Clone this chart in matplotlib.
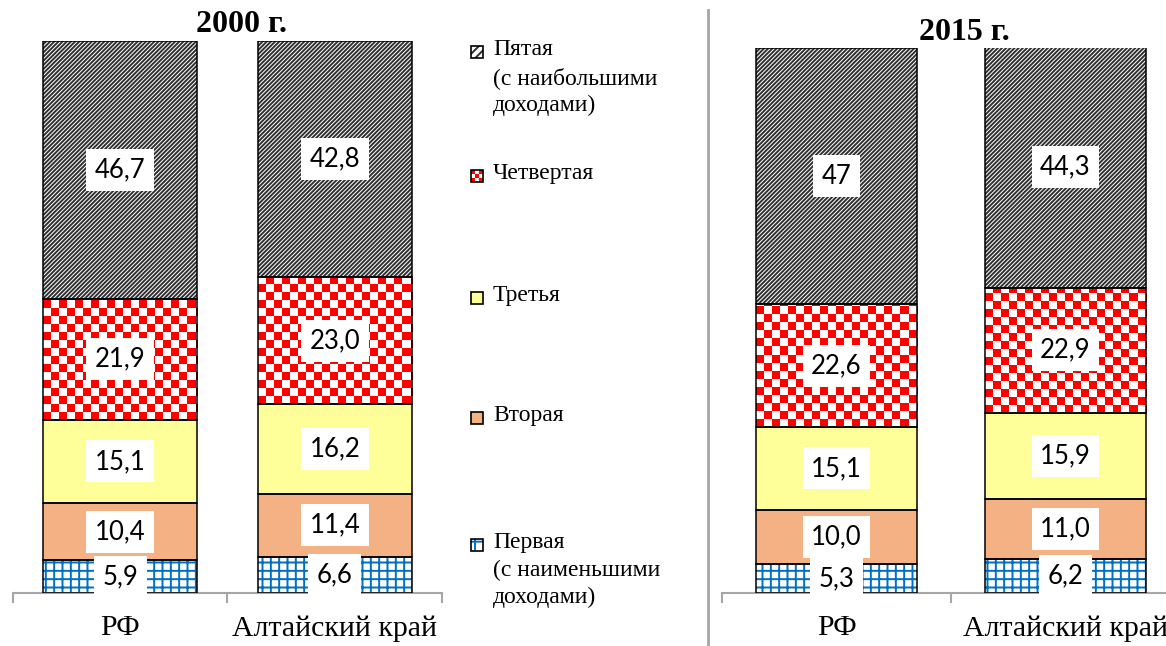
import numpy as np
import matplotlib
matplotlib.use('Agg')
import matplotlib.pyplot as plt
from matplotlib.patches import Rectangle

plt.rcParams['hatch.linewidth'] = 1.4

regions = ['РФ', 'Алтайский край']
years = ['2000 г.', '2015 г.']

# доли доходов по 20-процентным группам населения, %
first_2000 = [5.9, 6.6]
second_2000 = [10.4, 11.4]
third_2000 = [15.1, 16.2]
fourth_2000 = [21.9, 23.0]
fifth_2000 = [46.7, 42.8]

first_2015 = [5.3, 6.2]
second_2015 = [10.0, 11.0]
third_2015 = [15.1, 15.9]
fourth_2015 = [22.6, 22.9]
fifth_2015 = [47, 44.3]

group_names = ['Пятая\n(с наибольшими\nдоходами)', 'Четвертая', 'Третья',
               'Вторая', 'Первая\n(с наименьшими\nдоходами)']

W, H = 1166, 646
serif = 'Liberation Serif'
blue = '#0070C0'
stripe = '#303030'
cell = 8  # размер клетки шахматки в пикселях


def fmt(v):
    return str(v).replace('.', ',')


def checker(nx, ny):
    ii, jj = np.meshgrid(np.arange(nx), np.arange(ny))
    img = np.ones((ny, nx, 3))
    img[(ii + jj) % 2 == 0] = [1, 0, 0]
    return img


def stolbiki(ax, cols, bw, pix_w, pix_h):
    x = np.arange(len(regions)) + 0.5
    bottom = np.zeros(len(regions))
    ppx = pix_w / 2.0
    ppy = pix_h / 100.0
    for k, raw in enumerate(cols):
        vals = np.array(raw, dtype=float)
        if k == 0:
            ax.bar(x, vals, bw, bottom=bottom, facecolor='white',
                   edgecolor=blue, hatch='++', linewidth=0, zorder=2)
        elif k == 1:
            ax.bar(x, vals, bw, bottom=bottom, color='#F4B183',
                   linewidth=0, zorder=2)
        elif k == 2:
            ax.bar(x, vals, bw, bottom=bottom, color='#FFFF99',
                   linewidth=0, zorder=2)
        elif k == 3:
            bars = ax.bar(x, vals, bw, bottom=bottom, color='white',
                          linewidth=0, zorder=2)
            for b in bars:
                x0, y0 = b.get_x(), b.get_y()
                nx = int(np.ceil(b.get_width() * ppx / cell))
                ny = int(np.ceil(b.get_height() * ppy / cell))
                im = ax.imshow(checker(nx, ny), origin='lower', aspect='auto',
                               interpolation='nearest', zorder=2.5,
                               extent=(x0, x0 + nx * cell / ppx,
                                       y0, y0 + ny * cell / ppy))
                im.set_clip_path(b)
        else:
            ax.bar(x, vals, bw, bottom=bottom, facecolor='white',
                   edgecolor=stripe, hatch='////////', linewidth=0, zorder=2)
        # чёрный контур сегментов
        ax.bar(x, vals, bw, bottom=bottom, fill=False, edgecolor='black',
               linewidth=1.1, zorder=3)
        for xi, b0, v in zip(x, bottom, raw):
            ax.text(xi, b0 + float(v) / 2, fmt(v), ha='center', va='center',
                    fontsize=18.5, family='Lato', zorder=4,
                    bbox=dict(boxstyle='square,pad=0.33', fc='white', ec='none'))
        bottom = bottom + vals

    ax.set_xlim(0, 2)
    ax.set_ylim(0, 100)
    for s in ['top', 'left', 'right']:
        ax.spines[s].set_visible(False)
    ax.spines['bottom'].set_color('#a6a6a6')
    ax.spines['bottom'].set_linewidth(1.5)
    ax.set_yticks([])
    ax.set_xticks([0, 1, 2])
    ax.set_xticklabels([])
    ax.tick_params(axis='x', which='major', length=7, width=1.5, color='#a6a6a6')
    ax.set_xticks(x, minor=True)
    ax.set_xticklabels(regions, minor=True, fontsize=21.5, family=serif)
    ax.tick_params(axis='x', which='minor', length=0, pad=16)
    ax.set_facecolor('none')


fig = plt.figure(figsize=(W / 100, H / 100), dpi=100)

ax1 = fig.add_axes([13 / W, 53 / H, 429 / W, 552 / H])
stolbiki(ax1, [first_2000, second_2000, third_2000, fourth_2000, fifth_2000],
         0.72, 429, 552)

ax2 = fig.add_axes([722 / W, 53 / H, 458 / W, 545 / H])
stolbiki(ax2, [first_2015, second_2015, third_2015, fourth_2015, fifth_2015],
         0.705, 458, 545)

# оверлей в пикселях: разделитель, заголовки, легенда
ov = fig.add_axes([0, 0, 1, 1], zorder=5)
ov.axis('off')
ov.set_facecolor('none')

ov.plot([708, 708], [10, H], color='#a6a6a6', lw=2)
ov.text(242, 25, years[0], ha='center', va='center', fontsize=23,
        fontweight='bold', family=serif)
ov.text(964, 32, years[1], ha='center', va='center', fontsize=23,
        fontweight='bold', family=serif)

leg_y = [52, 176, 298, 418, 545]
mx, ms = 471, 12
for i, (name, yy) in enumerate(zip(group_names, leg_y)):
    if i == 0:
        ov.add_patch(Rectangle((mx, yy - ms / 2), ms, ms, facecolor='white',
                               edgecolor=stripe, hatch='////', lw=0))
    elif i == 1:
        ov.imshow(checker(3, 3), extent=(mx, mx + ms, yy + ms / 2, yy - ms / 2),
                  interpolation='nearest', aspect='auto', zorder=1)
    elif i == 2:
        ov.add_patch(Rectangle((mx, yy - ms / 2), ms, ms, facecolor='#FFFF99', lw=0))
    elif i == 3:
        ov.add_patch(Rectangle((mx, yy - ms / 2), ms, ms, facecolor='#F4B183', lw=0))
    else:
        ov.add_patch(Rectangle((mx, yy - ms / 2), ms, ms, facecolor='white',
                               edgecolor=blue, hatch='+', lw=0))
    ov.add_patch(Rectangle((mx, yy - ms / 2), ms, ms, fill=False,
                           edgecolor='black', lw=1.2, zorder=2))
    ov.text(493, yy - 13, name, ha='left', va='top', fontsize=17,
            family=serif, linespacing=1.4)

ov.set_xlim(0, W)
ov.set_ylim(H, 0)

fig.savefig('out.png', dpi=100)
